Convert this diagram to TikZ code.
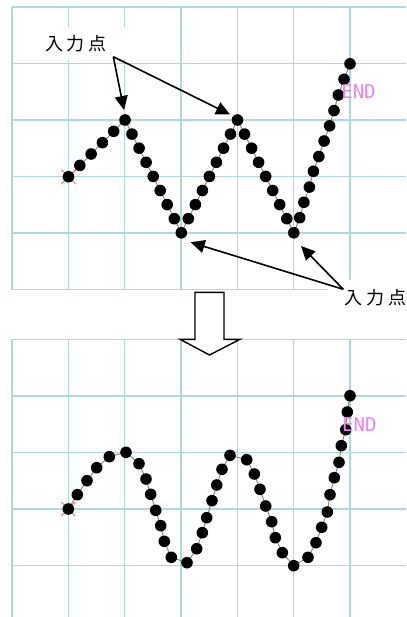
\documentclass[tikz,border=0pt]{standalone}
\usepackage{fontspec}
\newfontfamily\jpfont{Noto Sans CJK JP}
\newfontfamily\endfont{DejaVu Sans Mono}
\usetikzlibrary{arrows.meta}
\definecolor{gridblue}{RGB}{173,216,230}
\definecolor{endviolet}{RGB}{238,130,238}
\definecolor{markred}{RGB}{255,90,90}
\tikzset{
 gridline/.style={draw=gridblue, line width=1.4pt},
 dotnode/.style={circle, fill=black, inner sep=0pt, minimum size=11.6pt},
 trail/.style={draw=gray, line width=0.9pt},
 endlabel/.style={font=\endfont\fontsize{19}{19}\selectfont, text=endviolet, inner sep=0pt, anchor=base},
 jplabel/.style={font=\jpfont\fontsize{18}{18}\selectfont, fill=white, inner xsep=18pt, inner ysep=8pt},
 callout/.style={draw=black, line width=1.6pt, -{Triangle[length=14pt,width=13pt]}},
 hollow/.style={draw=black, fill=white, line width=1.4pt, line join=miter},
 startmark/.style={draw=markred, line width=0.9pt},
}
\begin{document}
\begin{tikzpicture}[x=1pt,y=-1pt]
\useasboundingbox (0,0) rectangle (406,617);
% ---------- grids ----------
\foreach \k in {0,...,6} \draw[gridline] ({12+56.33*\k},7) -- ({12+56.33*\k},289.5);
\foreach \k in {0,...,5} \draw[gridline] (12,{7+56.5*\k}) -- (406,{7+56.5*\k});
\foreach \k in {0,...,6} \draw[gridline] ({12+56.33*\k},339.3) -- ({12+56.33*\k},617);
\foreach \k in {0,...,4} \draw[gridline] (12,{339.3+56.5*\k}) -- (406,{339.3+56.5*\k});
% ---------- hollow arrow ----------
\draw[hollow] (195,292.3) -- (224,292.3) -- (224,339.3) -- (240,339.3) -- (209.5,355) -- (180,339.3) -- (195,339.3) -- cycle;
% ---------- top chart ----------
\foreach \x/\y [count=\i] in {68.5/176.7,79.8/165.4,91.1/154.0,102.4/142.7,113.7/131.3,125/120,
 132.0/134.1,139.1/148.2,146.1/162.3,153.2/176.4,160.2/190.5,167.2/204.6,174.3/218.7,181.3/232.8,
 188.3/218.7,195.4/204.6,202.4/190.5,209.4/176.4,216.4/162.3,223.5/148.2,230.5/134.1,237.5/120,
 244.5/134.1,251.6/148.2,258.6/162.3,265.7/176.4,272.7/190.5,279.7/204.6,286.8/218.7,293.8/232.8,
 299.7/217.7,303.9/202.3,309.4/187.1,313.4/171.3,318.8/156.5,324.1/141.0,329.6/125.8,334.0/110.6,338.3/95.0,344.0/79.3,350/63.8}
 \coordinate (a\i) at (\x,\y);
\draw[trail] (a1) \foreach \i in {2,...,41} {-- (a\i)};
\draw[startmark] ([shift={(-7,-7)}]a1) -- ([shift={(7,7)}]a1);
\draw[startmark] ([shift={(-7,7)}]a1) -- ([shift={(7,-7)}]a1);
\foreach \i in {1,...,41} \node[dotnode] (ad\i) at (a\i) {};
\node[endlabel] (tend) at (358.5,99) {END};
% ---------- bottom chart ----------
\foreach \x/\y [count=\i] in {68.3/509,77.3/494.7,87/480.7,96.7/467.7,109.3/456.7,126/452.3,139/463.7,146/479,150.7/494.3,155.7/510.3,160.7/525.7,164.3/541.3,171.3/557.3,187/562.7,196.7/548.7,202.3/532.7,206.7/517.7,212/500.7,216.7/485,222/469.3,230/455.3,246.7/459.7,254.3/474,260/489.3,265.7/506,271.7/521.7,275.3/537.7,282.3/552.7,293.7/565.7,308/557.3,316/542.7,321.7/527.3,327.3/512,330/494.7,334.3/477.7,339/462.3,341.3/445.7,345.7/429.7,347.3/412,350/395.7}
 \coordinate (b\i) at (\x,\y);
\draw[trail] (b1) \foreach \i in {2,...,40} {-- (b\i)};
\draw[startmark] ([shift={(-7,-7)}]b1) -- ([shift={(7,7)}]b1);
\draw[startmark] ([shift={(-7,7)}]b1) -- ([shift={(7,-7)}]b1);
\foreach \i in {1,...,40} \node[dotnode] (bd\i) at (b\i) {};
\node[endlabel] (bend) at (359.3,431) {END};
% ---------- labels and callouts ----------
\node[jplabel] (tlab) at (76,43.5) {入\hspace{4pt}力\hspace{4pt}点};
\node[jplabel, inner xsep=17pt, inner ysep=9pt] (blab) at (375.5,297.5) {入\hspace{4pt}力\hspace{4pt}点};
\coordinate (tsrc) at (113.3,56.7);
\coordinate (ttip1) at (124,110);
\coordinate (ttip2) at (230,114.5);
\draw[callout] (tsrc) -- (ttip1);
\draw[callout] (tsrc) -- (ttip2);
\coordinate (bsrc) at (343.3,289.3);
\coordinate (btip1) at (190.7,242.3);
\coordinate (btip2) at (301,246);
\draw[callout] (bsrc) -- (btip1);
\draw[callout] (bsrc) -- (btip2);
\end{tikzpicture}
\end{document}
